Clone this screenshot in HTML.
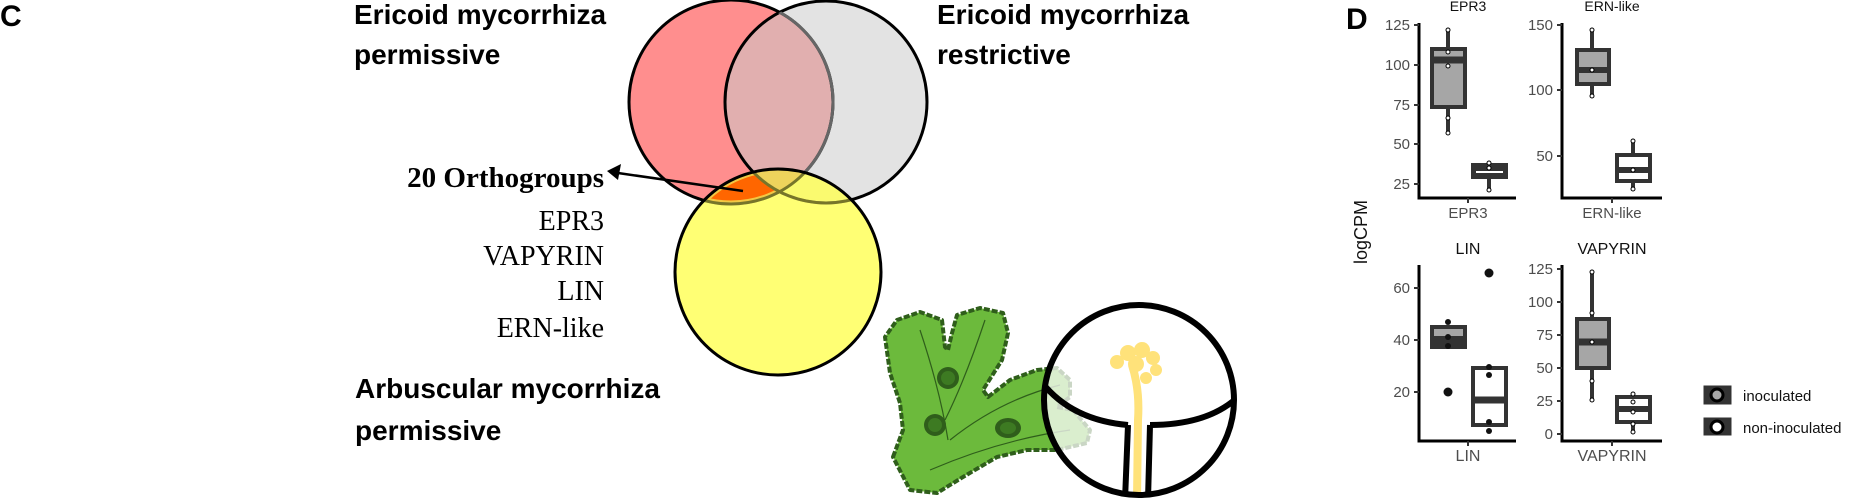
<!DOCTYPE html>
<html><head><meta charset="utf-8"><style>
html,body{margin:0;padding:0;background:#fff;}
svg{display:block;}
.b{font-family:"Liberation Sans",Arial,sans-serif;font-weight:bold;}
.s{font-family:"Liberation Serif",serif;}
.t{font-family:"Liberation Sans",Arial,sans-serif;fill:#4d4d4d;font-size:15px;}
.tt{font-family:"Liberation Sans",Arial,sans-serif;fill:#111;font-size:15px;}
</style></head><body>
<svg width="1856" height="504" viewBox="0 0 1856 504" xmlns="http://www.w3.org/2000/svg">
<defs>
<clipPath id="cr"><circle cx="731" cy="102" r="102"/></clipPath>
<clipPath id="cg"><circle cx="826" cy="102" r="101"/></clipPath>
<clipPath id="cy"><circle cx="778" cy="272" r="103"/></clipPath>
<clipPath id="cbig"><circle cx="1139" cy="400" r="95"/></clipPath>
<radialGradient id="fade" cx="0" cy="1" r="1">
<stop offset="0" stop-color="#fff" stop-opacity="1"/>
<stop offset="0.35" stop-color="#fff" stop-opacity="0"/>
</radialGradient>
</defs>
<text class="b" x="0" y="26" font-size="30">C</text>
<text class="b" x="354" y="24" font-size="28">Ericoid mycorrhiza</text>
<text class="b" x="354" y="64" font-size="28">permissive</text>
<text class="b" x="937" y="24" font-size="28">Ericoid mycorrhiza</text>
<text class="b" x="937" y="64" font-size="28">restrictive</text>
<text class="b" x="355" y="398" font-size="28">Arbuscular mycorrhiza</text>
<text class="b" x="355" y="440" font-size="28">permissive</text>

<!-- Venn -->
<circle cx="731" cy="102" r="102" fill="#ff8e8e"/>
<circle cx="826" cy="102" r="101" fill="#e3e3e3"/>
<g clip-path="url(#cg)"><circle cx="731" cy="102" r="102" fill="#e1afaf"/></g>
<circle cx="731" cy="102" r="102" fill="none" stroke="#000" stroke-width="3"/>
<circle cx="826" cy="102" r="101" fill="none" stroke="#000" stroke-width="3"/>
<g clip-path="url(#cg)"><circle cx="731" cy="102" r="102" fill="none" stroke="#666" stroke-width="3"/></g>
<circle cx="778" cy="272" r="103" fill="#ffff55" fill-opacity="0.82"/>
<g clip-path="url(#cr)"><g clip-path="url(#cy)">
<circle cx="731" cy="102" r="102" fill="#ff6600" stroke="#f2c844" stroke-width="7"/>
<circle cx="778" cy="272" r="103" fill="none" stroke="#f2c844" stroke-width="7"/>
</g></g>
<g clip-path="url(#cg)"><g clip-path="url(#cy)"><circle cx="731" cy="102" r="102" fill="#eed35c"/>
<circle cx="826" cy="102" r="101" fill="none" stroke="#eed35c" stroke-width="0"/></g></g>
<g clip-path="url(#cy)">
<circle cx="826" cy="102" r="101" fill="none" stroke="#77752a" stroke-width="3"/>
<circle cx="731" cy="102" r="102" fill="none" stroke="#77752a" stroke-width="3"/>
</g>
<circle cx="778" cy="272" r="103" fill="none" stroke="#000" stroke-width="3"/>
<!-- arrow -->
<line x1="743" y1="191" x2="618" y2="173" stroke="#000" stroke-width="2.5"/>
<polygon points="607,171 621,164 618,180" fill="#000"/>
<text class="s" x="604" y="187" font-size="29" font-weight="bold" text-anchor="end">20 Orthogroups</text>
<text class="s" x="604" y="230" font-size="28" text-anchor="end">EPR3</text>
<text class="s" x="604" y="265" font-size="28" text-anchor="end">VAPYRIN</text>
<text class="s" x="604" y="300" font-size="28" text-anchor="end">LIN</text>
<text class="s" x="604" y="337" font-size="28" text-anchor="end">ERN-like</text>

<!-- plant -->
<path d="M893 457 L903 430 L900 403 L890 373 L885 337 L897 320 L920 312 L942 320 L945 347 L948 350 L952 333 L957 315 L980 308 L1003 313 L1008 333 L1002 360 L983 390 L988 397 L1010 380 L1037 370 L1057 368 L1070 380 L1070 397 L1057 407 L1073 410 L1090 430 L1087 443 L1057 450 L1027 450 L997 457 L963 477 L937 493 L910 490 Z" fill="#6cba3c" stroke="#2f5e1b" stroke-width="4" stroke-linejoin="round" stroke-dasharray="6 2"/>
<path d="M920 330 Q940 390 948 440 M985 320 Q965 380 945 420 M1060 385 Q1000 400 950 440 M1070 430 Q1000 440 930 470" fill="none" stroke="#2f5e1b" stroke-width="1.2"/>
<circle cx="948" cy="378" r="11" fill="#2f5e1b"/><circle cx="948" cy="378" r="7" fill="#3d7a22"/>
<circle cx="935" cy="425" r="11" fill="#2f5e1b"/><circle cx="935" cy="425" r="7" fill="#3d7a22"/>
<ellipse cx="1008" cy="428" rx="13" ry="10" fill="#2f5e1b"/><ellipse cx="1008" cy="428" rx="8" ry="6" fill="#3d7a22"/>
<rect x="870" y="380" width="120" height="124" fill="url(#fade)"/>
<circle cx="1139" cy="400" r="95" fill="#fff" fill-opacity="0.75"/>
<g clip-path="url(#cbig)">
<path d="M1040 380 Q1070 420 1128 425 M1150 425 Q1210 425 1240 395" fill="none" stroke="#000" stroke-width="6"/>
<path d="M1128 425 L1125 500 L1148 500 L1150 425 Z" fill="#fff"/>
<path d="M1137 500 L1138 420 Q1140 390 1132 365" fill="none" stroke="#ffe27a" stroke-width="8"/>
<path d="M1128 425 L1125 500 M1150 425 L1148 500" fill="none" stroke="#000" stroke-width="6"/>
</g>
<g fill="#ffe27a">
<circle cx="1117" cy="362" r="7"/><circle cx="1128" cy="353" r="8"/><circle cx="1142" cy="350" r="8"/><circle cx="1153" cy="358" r="7"/><circle cx="1156" cy="370" r="6"/><circle cx="1146" cy="378" r="6"/><circle cx="1136" cy="364" r="8"/>
</g>
<circle cx="1139" cy="400" r="95" fill="none" stroke="#000" stroke-width="6"/>

<!-- Panel D -->
<text class="b" x="1346" y="29" font-size="30">D</text>
<text x="1367" y="232" transform="rotate(-90 1367 232)" text-anchor="middle" font-family="Liberation Sans,sans-serif" font-size="18" fill="#111">logCPM</text>
<g stroke="#000" stroke-width="3" fill="none">
<path d="M1419 23 V198 H1516"/><path d="M1562 23 V198 H1662"/>
<path d="M1419 265 V441 H1516"/><path d="M1562 265 V441 H1662"/>
</g>
<g stroke="#333" stroke-width="2">
<path d="M1414 25H1419M1414 65H1419M1414 105H1419M1414 144H1419M1414 184H1419M1468 198V203"/>
<path d="M1557 25H1562M1557 90H1562M1557 156H1562M1612 198V203"/>
<path d="M1414 288H1419M1414 340H1419M1414 392H1419M1468 441V446"/>
<path d="M1557 269H1562M1557 302H1562M1557 335H1562M1557 368H1562M1557 401H1562M1557 434H1562M1612 441V446"/>
</g>
<g class="t" text-anchor="end">
<text x="1410" y="30">125</text><text x="1410" y="70">100</text><text x="1410" y="110">75</text><text x="1410" y="149">50</text><text x="1410" y="189">25</text>
<text x="1553" y="30">150</text><text x="1553" y="95">100</text><text x="1553" y="161">50</text>
<text x="1410" y="293">60</text><text x="1410" y="345">40</text><text x="1410" y="397">20</text>
<text x="1553" y="274">125</text><text x="1553" y="307">100</text><text x="1553" y="340">75</text><text x="1553" y="373">50</text><text x="1553" y="406">25</text><text x="1553" y="439">0</text>
</g>
<g class="t" text-anchor="middle">
<text x="1468" y="218">EPR3</text><text x="1612" y="218">ERN-like</text>
<text x="1468" y="461" font-size="16">LIN</text><text x="1612" y="461" font-size="16">VAPYRIN</text>
</g>
<g class="tt" text-anchor="middle">
<text x="1468" y="11" font-size="14">EPR3</text><text x="1612" y="11" font-size="14">ERN-like</text>
<text x="1468" y="254" font-size="16">LIN</text><text x="1612" y="254" font-size="16">VAPYRIN</text>
</g>
<!-- boxes -->
<g stroke="#333" stroke-width="4">
<line x1="1448" y1="30" x2="1448" y2="133"/><rect x="1432" y="49" width="33" height="58" fill="#a6a6a6"/><line x1="1432" y1="60" x2="1465" y2="60" stroke-width="7"/>
<line x1="1489" y1="163" x2="1489" y2="190"/><rect x="1473" y="165" width="33" height="12" fill="#333"/><line x1="1476" y1="172" x2="1503" y2="172" stroke="#fff" stroke-width="2"/>
<line x1="1592" y1="30" x2="1592" y2="97"/><rect x="1577" y="50" width="32" height="34" fill="#a6a6a6"/><line x1="1577" y1="70" x2="1609" y2="70" stroke-width="6"/>
<line x1="1633" y1="141" x2="1633" y2="190"/><rect x="1617" y="155" width="33" height="26" fill="#fff"/><line x1="1617" y1="170" x2="1650" y2="170" stroke-width="6"/>
<rect x="1432" y="327" width="33" height="20" fill="#a6a6a6"/><rect x="1432" y="336" width="33" height="11" fill="#333" stroke="none"/>
<line x1="1489" y1="368" x2="1489" y2="425"/><rect x="1473" y="368" width="33" height="57" fill="#fff"/><line x1="1473" y1="400" x2="1506" y2="400" stroke-width="7"/>
<line x1="1592" y1="272" x2="1592" y2="400"/><rect x="1577" y="319" width="32" height="49" fill="#a6a6a6"/><line x1="1577" y1="342" x2="1609" y2="342" stroke-width="7"/>
<line x1="1633" y1="393" x2="1633" y2="432"/><rect x="1617" y="397" width="33" height="25" fill="#fff"/><line x1="1617" y1="409" x2="1650" y2="409" stroke-width="6"/>
</g>
<g fill="#fff" stroke="#000" stroke-width="1">
<circle cx="1448" cy="30" r="2"/><circle cx="1448" cy="52" r="2"/><circle cx="1448" cy="66" r="2"/><circle cx="1448" cy="118" r="2"/><circle cx="1448" cy="133" r="2"/>
<circle cx="1489" cy="163" r="2"/><circle cx="1489" cy="168" r="2"/><circle cx="1489" cy="190" r="2"/>
<circle cx="1592" cy="30" r="2"/><circle cx="1592" cy="70" r="2"/><circle cx="1592" cy="96" r="2"/>
<circle cx="1633" cy="141" r="2"/><circle cx="1633" cy="170" r="2"/><circle cx="1633" cy="189" r="2"/>
<circle cx="1592" cy="272" r="2"/><circle cx="1592" cy="313" r="2"/><circle cx="1592" cy="342" r="2"/><circle cx="1592" cy="381" r="2"/><circle cx="1592" cy="400" r="2"/>
<circle cx="1633" cy="394" r="2"/><circle cx="1633" cy="402" r="2"/><circle cx="1633" cy="412" r="2"/><circle cx="1633" cy="424" r="2"/><circle cx="1633" cy="432" r="2"/>
</g>
<g fill="#111">
<circle cx="1448" cy="392" r="4.5"/><circle cx="1489" cy="273" r="4.5"/>
<circle cx="1448" cy="322" r="3"/><circle cx="1448" cy="337" r="3"/><circle cx="1448" cy="346" r="3"/>
<circle cx="1489" cy="367" r="3"/><circle cx="1489" cy="375" r="3"/><circle cx="1489" cy="422" r="3"/><circle cx="1489" cy="431" r="3"/>
</g>
<!-- legend -->
<g stroke="#333">
<rect x="1704" y="386" width="27" height="18" fill="#333"/><circle cx="1717" cy="395" r="6" fill="#a6a6a6" stroke="#000" stroke-width="3"/>
<rect x="1704" y="418" width="27" height="17" fill="#333"/><circle cx="1717" cy="427" r="6" fill="#fff" stroke="#000" stroke-width="3"/>
</g>
<text x="1743" y="401" font-family="Liberation Sans,sans-serif" font-size="15" fill="#111">inoculated</text>
<text x="1743" y="433" font-family="Liberation Sans,sans-serif" font-size="15" fill="#111">non-inoculated</text>
</svg>
</body></html>
